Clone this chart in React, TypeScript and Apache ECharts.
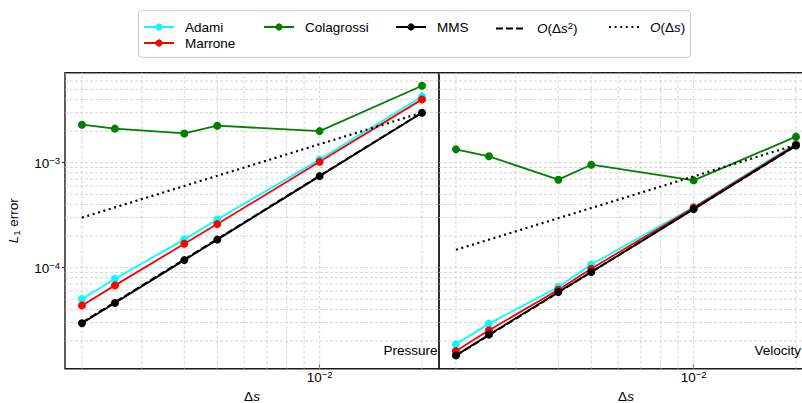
import React, { useEffect, useRef } from 'react';
import * as echarts from 'echarts';

// ---- data ----
const ds = [0.002, 0.0025, 0.004, 0.005, 0.01, 0.02];

const adamiP = [5.02e-5, 7.85e-5, 1.86e-4, 2.88e-4, 1.07e-3, 4.28e-3];
const marroneP = [4.37e-5, 6.78e-5, 1.69e-4, 2.6e-4, 1.02e-3, 4.01e-3];
const colagrossiP = [2.3e-3, 2.11e-3, 1.9e-3, 2.25e-3, 2.0e-3, 5.41e-3];
const mmsP = [2.95e-5, 4.6e-5, 1.18e-4, 1.85e-4, 7.45e-4, 2.99e-3];

const adamiV = [1.86e-5, 2.93e-5, 6.53e-5, 1.07e-4, 3.78e-4, 1.52e-3];
const marroneV = [1.61e-5, 2.53e-5, 6.17e-5, 9.78e-5, 3.73e-4, 1.49e-3];
const colagrossiV = [1.34e-3, 1.15e-3, 6.89e-4, 9.57e-4, 6.78e-4, 1.77e-3];
const mmsV = [1.46e-5, 2.3e-5, 5.86e-5, 9.08e-5, 3.61e-4, 1.46e-3];

const dsRef = [0.002, 0.02];
const order2P = [3.0e-5, 3.0e-3];
const order1P = [3.0e-4, 3.0e-3];
const order2V = [1.45e-5, 1.45e-3];
const order1V = [1.48e-4, 1.48e-3];

// grid line positions (major + minor decades)
const xGridValues = [0.002, 0.003, 0.004, 0.005, 0.006, 0.007, 0.008, 0.009, 0.01, 0.02];
const yGridValues = [
  2e-5, 3e-5, 4e-5, 5e-5, 6e-5, 7e-5, 8e-5, 9e-5,
  1e-4, 2e-4, 3e-4, 4e-4, 5e-4, 6e-4, 7e-4, 8e-4, 9e-4,
  1e-3, 2e-3, 3e-3, 4e-3, 5e-3, 6e-3, 7e-3,
];

const panelNames = ['Pressure', 'Velocity'];

const FONT = "'Liberation Sans', Arial, Helvetica, sans-serif";
const FS = 13.5;

const COLORS: Record<string, string> = {
  Adami: '#00ffff',
  Marrone: '#ff0000',
  Colagrossi: '#008000',
  MMS: '#000000',
};

const X_MIN = 0.001783;
const X_MAX = 0.02244;
const Y_MIN = 1.09e-5;
const Y_MAX = 7.2e-3;

const powLabel = (v: number) => {
  const e = Math.log10(v);
  const r = Math.round(e);
  if (Math.abs(e - r) > 1e-6) return '';
  return `{b|10}{s|${r < 0 ? '−' : ''}${Math.abs(r)}}`;
};

const powRich = {
  b: { fontSize: FS, fontFamily: FONT, color: '#000', verticalAlign: 'bottom' },
  s: { fontSize: 9.5, fontFamily: FONT, color: '#000', verticalAlign: 'bottom', padding: [0, 0, 5, 0] },
};

function dataSeries(name: string, ys: number[], gi: number) {
  const color = COLORS[name];
  return {
    type: 'line',
    name,
    xAxisIndex: gi,
    yAxisIndex: gi,
    data: ds.map((x, i) => [x, ys[i]]),
    symbol: 'circle',
    symbolSize: 8,
    lineStyle: { color, width: 1.8 },
    itemStyle: { color },
    z: 3,
  };
}

function refSeries(name: string, ys: number[], gi: number, type: any, width: number) {
  return {
    type: 'line',
    name,
    xAxisIndex: gi,
    yAxisIndex: gi,
    data: dsRef.map((x, i) => [x, ys[i]]),
    symbol: 'none',
    lineStyle: { color: '#000', width, type, cap: 'butt' },
    itemStyle: { color: '#000' },
    z: 4,
  };
}

function gridSeries(gi: number) {
  const data: any[] = [];
  xGridValues.forEach((v) => {
    data.push([v, Y_MIN], [v, Y_MAX], [v, '-']);
  });
  yGridValues.forEach((v) => {
    data.push([X_MIN, v], [X_MAX, v], [X_MAX, '-']);
  });
  return {
    type: 'line',
    name: 'grid' + gi,
    xAxisIndex: gi,
    yAxisIndex: gi,
    data,
    symbol: 'none',
    silent: true,
    connectNulls: false,
    z: 1,
    lineStyle: { color: '#cccccc', width: 0.8, type: [3, 2] },
    emphasis: { disabled: true },
  };
}

const legendText = { fontSize: FS, fontFamily: FONT, color: '#000', padding: [0, 0, 0, 6] };
const legendRich = {
  t: { fontSize: FS, fontFamily: FONT, color: '#000' },
  i: { fontSize: FS, fontFamily: FONT, color: '#000', fontStyle: 'italic' },
  sp: { fontSize: 9.5, fontFamily: FONT, color: '#000', verticalAlign: 'bottom', padding: [0, 0, 7, 0] },
};

function legendItem(name: string, left: number, top: number, formatter?: string, noSymbol?: boolean) {
  return {
    data: [noSymbol ? { name, itemStyle: { opacity: 0 } } : name],
    left,
    top,
    padding: 0,
    itemWidth: 30,
    itemHeight: 9,
    selectedMode: false,
    textStyle: { ...legendText, rich: legendRich },
    formatter: formatter || '{t|{name}}',
  };
}

const ROW1 = 20;
const ROW2 = 36;

const gridBase = {
  top: 72.7,
  width: 374,
  height: 296,
  show: true,
  borderColor: '#1a1a1a',
  borderWidth: 1.4,
  backgroundColor: 'transparent',
  containLabel: false,
  outerBoundsMode: 'none',
};

const option: any = {
  animation: false,
  backgroundColor: '#fff',
  grid: [
    { ...gridBase, left: 65 },
    { ...gridBase, left: 439 },
  ],
  xAxis: [0, 1].map((gi) => ({
    type: 'log',
    logBase: 10,
    gridIndex: gi,
    min: X_MIN,
    max: X_MAX,
    name: '{d|Δ}{i|s}',
    nameLocation: 'middle',
    nameGap: 19,
    nameTextStyle: {
      rich: {
        d: { fontSize: FS, fontFamily: FONT, color: '#000' },
        i: { fontSize: FS, fontFamily: FONT, color: '#000', fontStyle: 'italic' },
      },
    },
    axisLine: { show: false },
    axisTick: { show: true, inside: true, length: 4, lineStyle: { color: '#1a1a1a', width: 1 } },
    axisLabel: { formatter: powLabel, rich: powRich, margin: 1, showMinLabel: false, showMaxLabel: false },
    splitLine: { show: false },
    minorTick: { show: false },
  })),
  yAxis: [0, 1].map((gi) => ({
    type: 'log',
    logBase: 10,
    gridIndex: gi,
    min: Y_MIN,
    max: Y_MAX,
    name: gi === 0 ? '{i|L}{sub|1}{t| error}' : '',
    nameLocation: 'middle',
    nameGap: 44,
    nameRotate: 90,
    nameTextStyle: {
      rich: {
        i: { fontSize: FS, fontFamily: FONT, color: '#000', fontStyle: 'italic' },
        sub: { fontSize: 9.5, fontFamily: FONT, color: '#000', padding: [6, 0, 0, 0] },
        t: { fontSize: FS, fontFamily: FONT, color: '#000' },
      },
    },
    axisLine: { show: false },
    axisTick: { show: gi === 0, inside: false, length: 3, lineStyle: { color: '#1a1a1a', width: 1 } },
    axisLabel: { show: gi === 0, formatter: powLabel, rich: powRich, margin: 5, showMinLabel: false, showMaxLabel: false },
    splitLine: { show: false },
  })),
  legend: [
    legendItem('Adami', 143, ROW1),
    legendItem('Marrone', 143, ROW2),
    legendItem('Colagrossi', 263, ROW1),
    legendItem('MMS', 395, ROW1),
    legendItem('O(Δs²)', 495, ROW1, '{i|O}{t|(Δ}{i|s}{sp|2}{t|)}', true),
    legendItem('O(Δs)', 608, ROW1, '{i|O}{t|(Δ}{i|s}{t|)}', true),
  ],
  graphic: [
    {
      type: 'rect',
      z: 0,
      shape: { x: 138.5, y: 10.7, width: 552, height: 46.6, r: 3 },
      style: { fill: '#fff', stroke: '#cccccc', lineWidth: 1 },
    },
    {
      type: 'text',
      x: 437.5,
      y: 350,
      z: 10,
      style: { text: panelNames[0], fontSize: FS, fontFamily: FONT, fill: '#000', align: 'right', verticalAlign: 'middle' },
    },
    {
      type: 'text',
      x: 801,
      y: 350,
      z: 10,
      style: { text: panelNames[1], fontSize: FS, fontFamily: FONT, fill: '#000', align: 'right', verticalAlign: 'middle' },
    },
  ],
  series: [
    gridSeries(0),
    dataSeries('Adami', adamiP, 0),
    dataSeries('Marrone', marroneP, 0),
    dataSeries('Colagrossi', colagrossiP, 0),
    dataSeries('MMS', mmsP, 0),
    refSeries('O(Δs²)', order2P, 0, [7, 3], 2),
    refSeries('O(Δs)', order1P, 0, [2, 3.6], 2.2),
    gridSeries(1),
    dataSeries('Adami', adamiV, 1),
    dataSeries('Marrone', marroneV, 1),
    dataSeries('Colagrossi', colagrossiV, 1),
    dataSeries('MMS', mmsV, 1),
    refSeries('O(Δs²)', order2V, 1, [7, 3], 2),
    refSeries('O(Δs)', order1V, 1, [2, 3.6], 2.2),
  ],
};

export default function App() {
  const ref = useRef<HTMLDivElement>(null);
  useEffect(() => {
    if (!ref.current) return;
    const chart = echarts.init(ref.current, null, { renderer: 'svg' });
    chart.setOption(option);
    return () => chart.dispose();
  }, []);
  return (
    <div
      style={{
        position: 'absolute',
        left: 0,
        top: 0,
        width: 802,
        height: 403,
        overflow: 'hidden',
        background: '#fff',
      }}
    >
      <div ref={ref} style={{ width: 822, height: 403 }} />
    </div>
  );
}
